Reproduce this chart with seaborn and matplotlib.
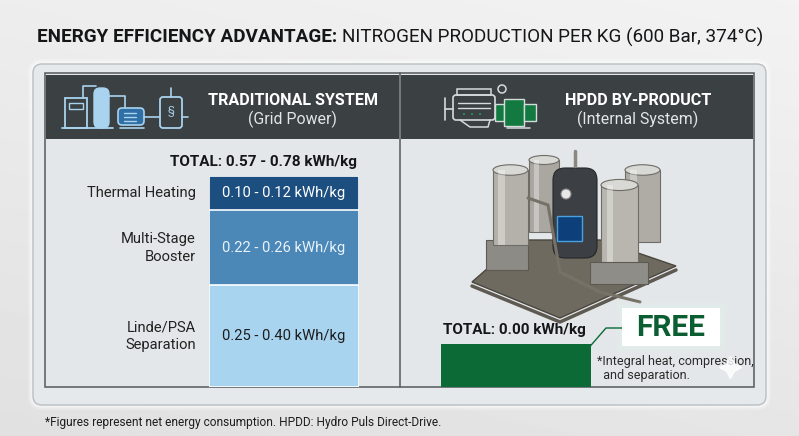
import numpy as np
import pandas as pd
import matplotlib
matplotlib.use("Agg")
import matplotlib.pyplot as plt
import seaborn as sns
from matplotlib.patches import Rectangle, FancyBboxPatch, Ellipse, Polygon, Circle
import matplotlib.transforms as mtransforms

# ---- data ----
stages = ["Thermal Heating", "Multi-Stage\nBooster", "Linde/PSA\nSeparation"]
stage_low = [0.10, 0.22, 0.25]
stage_high = [0.12, 0.26, 0.40]
stage_colors = ["#1c4f80", "#4b87b7", "#a9d4f0"]
stage_text_colors = ["white", "#e8f2fa", "#1d1d1d"]
total_low = 0.57
total_high = 0.78
hpdd_total = 0.00
hpdd_note = "*Integral heat, compression,\n  and separation."
footnote = "*Figures represent net energy consumption. HPDD: Hydro Puls Direct-Drive."

W, H = 799, 436
sns.set_theme(style="white")
plt.rcParams["font.family"] = ["Roboto", "DejaVu Sans"]

fig = plt.figure(figsize=(W / 100, H / 100), dpi=100)

# background axes in pixel coordinates
bg = fig.add_axes([0, 0, 1, 1])
bg.set_xlim(0, W)
bg.set_ylim(H, 0)
bg.axis("off")

grad = np.linspace(0, 1, 256)
gx, gy = np.meshgrid(grad, grad)
shade = 0.88 + 0.05 * (1 - gy) + 0.02 * gx
bg.imshow(shade, cmap="gray", vmin=0, vmax=1, extent=[0, W, H, 0], aspect="auto", zorder=0)

# outer rounded panel + glow
for lw, a in [(7, 0.25), (4, 0.4)]:
    bg.add_patch(FancyBboxPatch((33, 64), 733, 341, boxstyle="round,pad=0,rounding_size=9",
                                fc="none", ec="white", lw=lw, alpha=a, zorder=1))
bg.add_patch(FancyBboxPatch((33, 64), 733, 341, boxstyle="round,pad=0,rounding_size=9",
                            fc="#e6e9eb", ec="#b9bfc3", lw=1, zorder=1))
# inner frame
bg.add_patch(Rectangle((45, 73), 709, 314, fc="#e4e7e9", ec="#55595c", lw=1.1, zorder=2))
bg.plot([400, 400], [73, 387], color="#55595c", lw=1.1, zorder=3)
# header bars
bg.add_patch(Rectangle((46, 75), 353, 64, fc="#3b4043", ec="none", zorder=3))
bg.add_patch(Rectangle((401, 75), 352, 64, fc="#3b4043", ec="none", zorder=3))

# title
title_kw = dict(fontsize=13.6, color="#141618", va="center", ha="left", zorder=5)
t1 = bg.text(37, 37, "ENERGY EFFICIENCY ADVANTAGE:", fontweight="bold", **title_kw)
fig.canvas.draw()
ext = t1.get_window_extent(fig.canvas.get_renderer())
bg.text(ext.x1 + 5, 37, "NITROGEN PRODUCTION PER KG (600 Bar, 374°C)", **title_kw)

# header texts
bg.text(293, 100, "TRADITIONAL SYSTEM", color="white", fontsize=11.6, fontweight="bold",
        ha="center", va="center", zorder=5)
bg.text(293, 119, "(Grid Power)", color="#e3e6e8", fontsize=11.4, ha="center", va="center", zorder=5)
bg.text(638, 100, "HPDD BY-PRODUCT", color="white", fontsize=11.6, fontweight="bold",
        ha="center", va="center", zorder=5)
bg.text(638, 119, "(Internal System)", color="#e3e6e8", fontsize=11.4, ha="center", va="center", zorder=5)

# ---- left header icon (plant) ----
ic = "#a9d3ee"
bg.add_patch(Rectangle((65, 98), 22, 30, fc="none", ec=ic, lw=1.3, zorder=4))
bg.add_patch(Rectangle((69, 103), 14, 6, fc="none", ec=ic, lw=1, zorder=4))
bg.add_patch(FancyBboxPatch((94, 88), 15, 40, boxstyle="round,pad=0,rounding_size=6",
                            fc=ic, ec=ic, lw=1, zorder=4))
bg.plot([83, 83, 96], [98, 86, 86], color=ic, lw=1.2, zorder=4)
bg.plot([62, 113], [128, 128], color=ic, lw=1.3, zorder=4)
bg.plot([109, 125, 125], [96, 96, 108], color=ic, lw=1.2, zorder=4)
bg.add_patch(FancyBboxPatch((118, 108), 26, 17, boxstyle="round,pad=0,rounding_size=4",
                            fc="#2f6fa5", ec=ic, lw=1.2, zorder=4))
for yy in (113, 117, 121):
    bg.plot([124, 136], [yy, yy], color=ic, lw=1, zorder=5)
bg.plot([144, 160], [117, 117], color=ic, lw=1.2, zorder=4)
bg.plot([120, 144], [128, 128], color=ic, lw=1.2, zorder=4)
bg.add_patch(FancyBboxPatch((160, 97), 22, 31, boxstyle="round,pad=0,rounding_size=3",
                            fc="none", ec=ic, lw=1.3, zorder=4))
bg.plot([171, 171], [88, 97], color=ic, lw=1.2, zorder=4)
bg.plot([182, 188], [117, 117], color=ic, lw=1.2, zorder=4)
bg.text(171, 111, "§", color=ic, fontsize=8, ha="center", va="center", zorder=5)

# ---- right header icon (engine + generator) ----
ec_ = "#d5dadd"
bg.add_patch(FancyBboxPatch((453, 95), 42, 25, boxstyle="round,pad=0,rounding_size=3",
                            fc="none", ec=ec_, lw=1.2, zorder=4))
bg.add_patch(Rectangle((457, 89), 34, 6, fc="none", ec=ec_, lw=1.1, zorder=4))
bg.plot([458, 490], [103, 103], color=ec_, lw=1, zorder=4)
bg.plot([458, 490], [108, 108], color=ec_, lw=1, zorder=4)
bg.plot([445, 445], [98, 120], color=ec_, lw=1.2, zorder=4)
bg.plot([445, 453], [109, 109], color=ec_, lw=1.2, zorder=4)
bg.plot([460, 470, 488, 490], [120, 127, 127, 120], color=ec_, lw=1.1, zorder=4)
for xx in (464, 472, 480):
    bg.add_patch(Circle((xx, 114), 1, fc="#2b9a55", ec="none", zorder=5))
bg.add_patch(Circle((502, 89), 4, fc="none", ec=ec_, lw=1.1, zorder=4))
bg.add_patch(Rectangle((495, 104), 9, 17, fc="#127a40", ec=ec_, lw=1, zorder=4))
bg.add_patch(Rectangle((504, 99), 20, 27, fc="#127a40", ec=ec_, lw=1, zorder=4))
bg.add_patch(Rectangle((524, 104), 12, 17, fc="#127a40", ec=ec_, lw=1, zorder=4))
bg.plot([507, 530], [128, 128], color=ec_, lw=1.1, zorder=4)

# ---- stylised nitrogen unit (right panel) ----
bg.add_patch(Polygon([[472, 282], [560, 318], [676, 266], [600, 240], [520, 240]],
                     fc="#6f6a5f", ec="#4a463f", lw=1, zorder=3))
bg.add_patch(Polygon([[486, 240], [528, 240], [528, 270], [486, 270]], fc="#8d8b85", ec="#5d5a55", lw=0.8, zorder=3))
bg.plot([472, 560, 676], [286, 322, 270], color="#5e5a52", lw=2.5, zorder=3)


def cylinder(x, y, w, h, fc, ec, z):
    bg.add_patch(Rectangle((x, y), w, h, fc=fc, ec=ec, lw=0.8, zorder=z))
    bg.add_patch(Ellipse((x + w / 2, y), w, w * 0.3, fc="#d8d8d4", ec=ec, lw=0.8, zorder=z))
    bg.add_patch(Rectangle((x + w * 0.15, y), w * 0.18, h, fc="white", alpha=0.35, ec="none", zorder=z))


cylinder(529, 160, 30, 72, "#a9a7a0", "#6e6c66", 4)
cylinder(625, 170, 35, 72, "#aeaca5", "#6e6c66", 4)
cylinder(493, 170, 35, 75, "#b3b1aa", "#6e6c66", 5)
bg.add_patch(FancyBboxPatch((553, 168), 44, 90, boxstyle="round,pad=0,rounding_size=12",
                            fc="#3c3f43", ec="#23262a", lw=0.8, zorder=5))
bg.plot([575, 575], [151, 166], color="#8a8880", lw=2.5, zorder=5)
bg.add_patch(Circle((566, 194), 5, fc="#e8e8e8", ec="#888", lw=0.8, zorder=6))
bg.add_patch(Rectangle((557, 216), 25, 25, fc="#0d3f7a", ec="#4aa0e0", lw=1, zorder=6))
cylinder(601, 185, 37, 78, "#b8b6af", "#6e6c66", 6)
bg.plot([528, 548, 560, 600, 640], [198, 205, 272, 292, 302], color="#777268", lw=2.2, zorder=6)
bg.add_patch(Rectangle((590, 262), 58, 22, fc="#8f8d87", ec="#5d5a55", lw=0.8, zorder=6))

# ---- traditional system stacked bar ----
mids = (np.array(stage_low) + np.array(stage_high)) / 2
cum = np.cumsum(mids)
df = pd.DataFrame({"stage": stages, "low": stage_low, "high": stage_high, "mid": mids,
                   "cum": cum, "color": stage_colors})
y_max = cum[-1]

axL = fig.add_axes([209 / W, 1 - 387 / H, 150 / W, 211 / H], zorder=5)
axL.patch.set_alpha(0)
for i in reversed(range(len(df))):
    sns.barplot(x=["trad"], y=[df["cum"][i]], color=df["color"][i], saturation=1, width=1,
                edgecolor="white", linewidth=1.2, ax=axL)
axL.set_xlim(-0.5, 0.5)
axL.set_ylim(y_max, 0)
axL.axis("off")

lab_tr = mtransforms.blended_transform_factory(axL.transAxes, axL.transData)
starts = np.concatenate([[0], cum[:-1]])
for i, row in df.iterrows():
    yc = (starts[i] + row["cum"]) / 2
    axL.text(0, yc, f"{row['low']:.2f} - {row['high']:.2f} kWh/kg", ha="center", va="center",
             color=stage_text_colors[i], fontsize=10.6, zorder=6)
    axL.text(-0.087, yc, row["stage"], transform=lab_tr, ha="right", va="center",
             color="#222", fontsize=10.6, linespacing=1.3, clip_on=False)

bg.text(357, 162, f"TOTAL: {total_low:.2f} - {total_high:.2f} kWh/kg", fontsize=11,
        fontweight="bold", color="#141618", ha="right", va="center", zorder=5)

# ---- HPDD bar ----
HPDD_MIN_VISIBLE = 0.1376  # zero-energy bar is still drawn as a visible block
axR = fig.add_axes([441 / W, 1 - 387 / H, 150 / W, 211 / H], zorder=5)
axR.patch.set_alpha(0)
sns.barplot(x=["hpdd"], y=[max(hpdd_total, HPDD_MIN_VISIBLE)], color="#0c6a37", saturation=1,
            width=1, edgecolor="none", ax=axR)
axR.set_xlim(-0.5, 0.5)
axR.set_ylim(0, y_max)
axR.axis("off")

bg.text(443, 330, f"TOTAL: {hpdd_total:.2f} kWh/kg", fontsize=11, fontweight="bold",
        color="#141618", ha="left", va="center", zorder=7)

# FREE callout
bg.plot([586, 606, 622], [351, 328, 328], color="#0c6a37", lw=1, zorder=8)
bg.add_patch(Circle((586, 351), 2.3, fc="white", ec="none", zorder=9))
for pad, a in [(6, 0.15), (3, 0.3)]:
    bg.add_patch(Rectangle((622 - pad, 308 - pad), 98 + 2 * pad, 38 + 2 * pad,
                           fc="#dff5ee", ec="none", alpha=a, zorder=7))
bg.add_patch(Rectangle((622, 308), 98, 38, fc="white", ec="none", zorder=8))
bg.text(671, 328, "FREE", fontsize=21.5, fontweight="bold", color="#0b5e31",
        ha="center", va="center", zorder=9)
bg.text(597, 368, hpdd_note, fontsize=9, color="#2a2a2a", ha="left", va="center",
        linespacing=1.1, zorder=8)
bg.plot([730], [367], marker=(4, 1, 0), ms=16, color="white", alpha=0.8, zorder=8)

# footnote
bg.text(45, 422, footnote, fontsize=8.6, color="#1e1e1e", ha="left", va="center", zorder=5)

fig.savefig("out.png", dpi=100)
